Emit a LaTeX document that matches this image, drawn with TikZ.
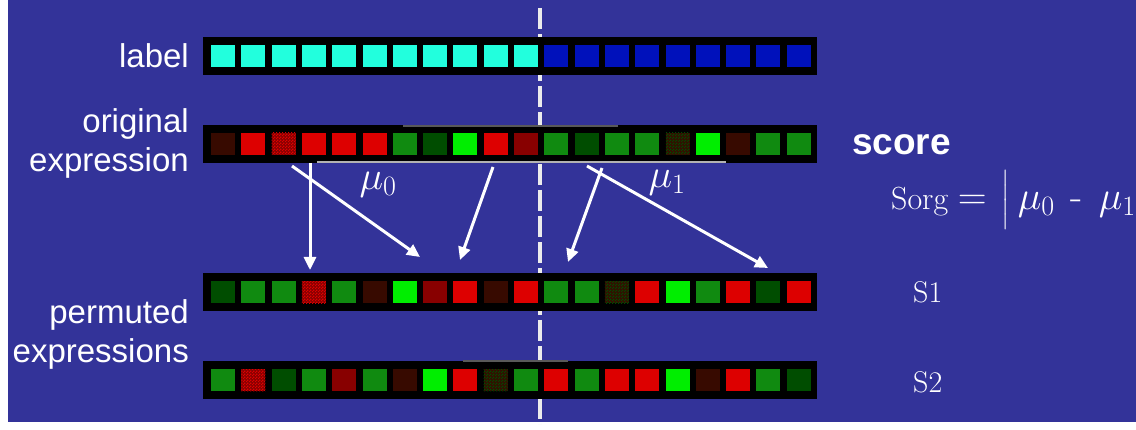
\RequirePackage{fix-cm}
\documentclass[tikz,border=0pt]{standalone}
\usepackage{amsmath}
\usepackage{fontspec}
\setsansfont{Liberation Sans}
\usetikzlibrary{arrows.meta,patterns}
\definecolor{bgblue}{RGB}{51,51,153}
\definecolor{labcyan}{RGB}{34,255,221}
\definecolor{labblue}{RGB}{0,17,187}
\definecolor{exred}{RGB}{221,0,0}
\definecolor{exdred}{RGB}{136,0,0}
\definecolor{exvdred}{RGB}{55,10,0}
\definecolor{exgreen}{RGB}{16,138,16}
\definecolor{exdgreen}{RGB}{0,77,0}
\definecolor{exbgreen}{RGB}{0,238,0}
\pgfdeclarepatternformonly{finechk}{\pgfqpoint{0pt}{0pt}}{\pgfqpoint{3pt}{3pt}}{\pgfqpoint{3pt}{3pt}}{%
  \pgfpathrectangle{\pgfqpoint{0pt}{0pt}}{\pgfqpoint{1.5pt}{1.5pt}}%
  \pgfpathrectangle{\pgfqpoint{1.5pt}{1.5pt}}{\pgfqpoint{1.5pt}{1.5pt}}%
  \pgfusepath{fill}}

\begin{document}
\begin{tikzpicture}[x=1pt,y=-1pt,
  every node/.style={inner sep=0pt, text=white},
  rowlabel/.style={anchor=east, align=right, font=\sffamily\fontsize{33}{39}\selectfont},
  mathlabel/.style={font=\rmfamily\fontsize{40}{48}\selectfont},
  bar/.style={rectangle, fill=black, minimum width=614pt, minimum height=38pt},
  cell/.style={rectangle, minimum width=24pt, minimum height=22pt},
  sqCy/.style={cell, fill=labcyan},
  sqBl/.style={cell, fill=labblue},
  sqR/.style={cell, fill=exred},
  sqDR/.style={cell, fill=exdred},
  sqVD/.style={cell, fill=exvdred},
  sqG/.style={cell, fill=exgreen},
  sqDG/.style={cell, fill=exdgreen},
  sqBG/.style={cell, fill=exbgreen},
  sqRC/.style={cell, fill=exdred, postaction={pattern=finechk, pattern color=exred}},
  sqDC/.style={cell, fill=exvdred, postaction={pattern=finechk, pattern color=exdgreen}},
  divider/.style={gray!15, line width=4pt, dash pattern=on 21pt off 5pt},
  arr/.style={-{Triangle[length=13pt,width=12pt]}, white, line width=3pt},
  meanline/.style={line width=1.5pt}
]
  \useasboundingbox (0,0) rectangle (1136,430);
  \fill[white] (0,0) rectangle (1136,430);
  \fill[bgblue] (8,0) rectangle (1136,422);

  % class boundary
  \coordinate (dtop) at (540,8);
  \coordinate (dbot) at (540,424);
  \draw[divider] (dtop) -- (dbot);

  % rows
  \node[bar] (labbar) at (510,56) {};
  \node[bar] (orgbar) at (510,144) {};
  \node[bar] (p1bar) at (510,292.5) {};
  \node[bar] (p2bar) at (510,380.5) {};

  \foreach \c [count=\i from 0] in {Cy,Cy,Cy,Cy,Cy,Cy,Cy,Cy,Cy,Cy,Cy,Bl,Bl,Bl,Bl,Bl,Bl,Bl,Bl,Bl}
    \node[sq\c] (l\i) at ({223+30.3*\i},56) {};
  \foreach \c [count=\i from 0] in {VD,R,RC,R,R,R,G,DG,BG,R,DR,G,DG,G,G,DC,BG,VD,G,G}
    \node[sq\c] (o\i) at ({223+30.3*\i},144) {};
  \foreach \c [count=\i from 0] in {DG,G,G,RC,G,VD,BG,DR,R,VD,R,G,G,DC,R,BG,G,R,DG,R}
    \node[sq\c] (p\i) at ({223+30.3*\i},292.5) {};
  \foreach \c [count=\i from 0] in {G,RC,DG,G,DR,G,VD,BG,R,DC,G,R,G,R,R,BG,VD,R,G,DG}
    \node[sq\c] (q\i) at ({223+30.3*\i},380.5) {};

  \draw[meanline, gray!70!black] (403,126) -- (618,126);
  \draw[meanline, gray!60] (317,162) -- (726,162);
  \draw[meanline, gray!70!black] (463,361) -- (568,361);

  % row names
  \node[rowlabel] (labname) at (189,56) {label};
  \node[rowlabel] (orgname) at (189,143) {original\\expression};
  \node[rowlabel] (permname) at (189,334) {permuted\\expressions};

  % group means
  \node[mathlabel] (mu0) at (378,185) {$\mu_0$};
  \node[mathlabel] (mu1) at (667,183) {$\mu_1$};

  % permutation arrows
  \coordinate (a1s) at (310,163); \coordinate (a1e) at (310,270);
  \coordinate (a2s) at (292,166); \coordinate (a2e) at (420,257);
  \coordinate (a3s) at (493,167); \coordinate (a3e) at (460,260);
  \coordinate (a4s) at (602,168); \coordinate (a4e) at (568,262);
  \coordinate (a5s) at (587,166); \coordinate (a5e) at (768,268);
  \foreach \k in {1,...,5} \draw[arr] (a\k s) -- (a\k e);

  % scores
  \node[anchor=base west, font=\sffamily\bfseries\fontsize{37}{44}\selectfont] (score) at (852,155) {score};
  \node[anchor=base west, font=\rmfamily\fontsize{32}{38}\selectfont] (sorg) at (891,210)
    {Sorg\hspace{0.3em}{\fontsize{40}{40}\selectfont$=\hspace{4pt}\left|\rule[-15pt]{0pt}{50pt}\right.\mu_0$\hspace{16pt}-\hspace{16pt}$\mu_1$}};
  \node[anchor=base west, font=\rmfamily\fontsize{30}{36}\selectfont] (s1) at (913,303) {S1};
  \node[anchor=base west, font=\rmfamily\fontsize{30}{36}\selectfont] (s2) at (913,392) {S2};
\end{tikzpicture}
\end{document}
